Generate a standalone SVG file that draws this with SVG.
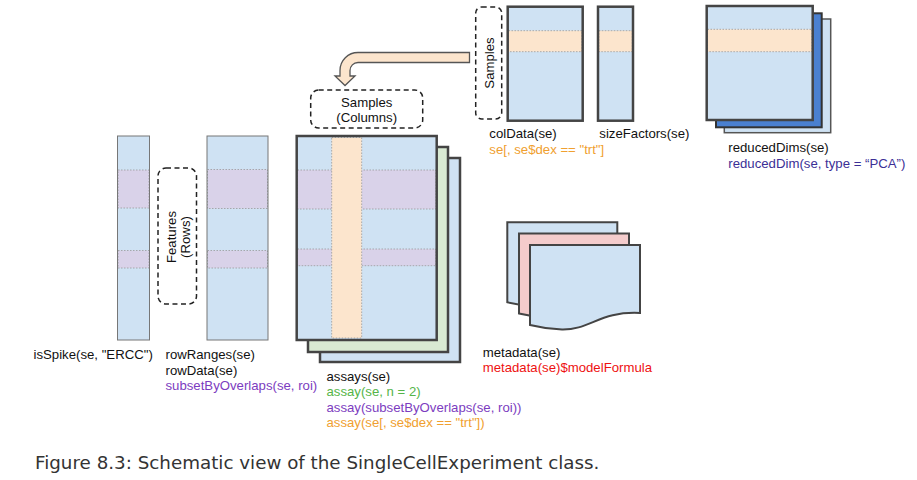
<svg xmlns="http://www.w3.org/2000/svg" xmlns:xlink="http://www.w3.org/1999/xlink" width="917" height="480" viewBox="0 0 917 480">
<style>
.lbl{font-family:"Liberation Sans",Arial,sans-serif;font-size:13.2px;fill:#111}
.org{fill:#f0a030}.grn{fill:#55b548}.pur{fill:#7c3cc0}.red{fill:#ee1111}.ind{fill:#3b2f96}
.blue{fill:#cfe2f3}
.thin{fill:none;stroke:#777;stroke-width:1}
.thick{stroke:#444;stroke-width:2.5}
.bandp{fill:#d9d2e9;stroke:#999;stroke-width:0.8;stroke-dasharray:1.5 1.5}
.bando{fill:#fce5cd;stroke:#999;stroke-width:0.8;stroke-dasharray:1.5 1.5}
.dash{fill:none;stroke:#222;stroke-width:1.5;stroke-dasharray:5 3.5}
.doc{stroke:#444;stroke-width:2}
.cap{font-family:"DejaVu Sans","Liberation Sans",sans-serif;font-size:18.3px;fill:#333}
</style>
<defs>
<path id="doc" d="M0,0 H110 V68 C70,66 60,85 32,84.5 C18,84 8,82 0,80 Z" class="doc"/>
</defs>

<g id="connectors">
<path d="M469.5,52.5 H358 A18,18 0 0 0 340,70.5 V76 H335 L345,85.5 L355,76 H350 V70.5 A8,8 0 0 1 358,62.5 H469.5 Z" fill="#fce5cd" stroke="#555" stroke-width="1.3"/>
</g>

<g id="isSpike">
<rect x="117.5" y="136" width="32" height="204" class="blue"/>
<rect x="118" y="170" width="31" height="38" class="bandp"/>
<rect x="118" y="250.5" width="31" height="17.5" class="bandp"/>
<rect x="117.5" y="136" width="32" height="204" class="thin"/>
<text x="33.5" y="358.5" class="lbl">isSpike(se, "ERCC")</text>
</g>

<g id="features">
<rect x="158" y="168" width="38.5" height="136" rx="8" class="dash"/>
<text transform="translate(177,237) rotate(-90)" text-anchor="middle" class="lbl"><tspan x="0" y="-1">Features</tspan><tspan x="0" y="13">(Rows)</tspan></text>
</g>

<g id="rowData">
<rect x="207" y="136" width="61" height="204" class="blue"/>
<rect x="207.5" y="169.5" width="60" height="39" class="bandp"/>
<rect x="207.5" y="250.5" width="60" height="17.5" class="bandp"/>
<rect x="207" y="136" width="61" height="204" class="thin"/>
<text class="lbl" x="165.5"><tspan x="165.5" y="359">rowRanges(se)</tspan><tspan x="165.5" y="374.5">rowData(se)</tspan><tspan x="165.5" y="390" class="pur">subsetByOverlaps(se, roi)</tspan></text>
</g>

<g id="assays">
<rect x="320" y="158" width="140" height="204" class="blue thick"/>
<rect x="308" y="147" width="140" height="205" fill="#d9ead3" class="thick"/>
<rect x="296.7" y="136" width="140" height="204" class="blue"/>
<rect x="297.5" y="170" width="138.5" height="39" class="bandp"/>
<rect x="297.5" y="249" width="138.5" height="16.7" class="bandp"/>
<rect x="331.7" y="137.5" width="30" height="200.5" class="bando"/>
<rect x="296.7" y="136" width="140" height="204" fill="none" class="thick"/>
<text class="lbl"><tspan x="326.5" y="380.7">assays(se)</tspan><tspan x="326.5" y="396" class="grn">assay(se, n = 2)</tspan><tspan x="326.5" y="411.5" class="pur">assay(subsetByOverlaps(se, roi))</tspan><tspan x="326.5" y="427" class="org">assay(se[, se$dex == "trt"])</tspan></text>
</g>

<g id="samplesColumns">
<rect x="310.7" y="90" width="112" height="38" rx="8" class="dash"/>
<text text-anchor="middle" class="lbl"><tspan x="366.7" y="107">Samples</tspan><tspan x="366.7" y="122">(Columns)</tspan></text>
</g>

<g id="samples">
<rect x="475.7" y="7" width="26" height="112" rx="6" class="dash"/>
<text transform="translate(493.5,63) rotate(-90)" text-anchor="middle" class="lbl">Samples</text>
</g>

<g id="colData">
<rect x="507.7" y="6.7" width="75" height="114" class="blue"/>
<rect x="508.5" y="30.7" width="73.5" height="21" class="bando"/>
<rect x="507.7" y="6.7" width="75" height="114" fill="none" class="thick"/>
<text class="lbl"><tspan x="489.3" y="138.3">colData(se)</tspan><tspan x="489.3" y="154" class="org">se[, se$dex == "trt"]</tspan></text>
</g>

<g id="sizeFactors">
<rect x="598" y="6.7" width="35" height="114" class="blue"/>
<rect x="598.8" y="30.7" width="33.5" height="21" class="bando"/>
<rect x="598" y="6.7" width="35" height="114" fill="none" class="thick"/>
<text x="599.3" y="138.3" class="lbl">sizeFactors(se)</text>
</g>

<g id="reducedDims">
<rect x="724.3" y="19" width="106.4" height="113.7" class="blue" stroke="#555" stroke-width="1.5"/>
<rect x="716" y="13.3" width="105.7" height="114" fill="#4a80d0" stroke="#333" stroke-width="2"/>
<rect x="706.7" y="6" width="106" height="114" class="blue"/>
<rect x="707.5" y="29.3" width="104.5" height="22.4" class="bando"/>
<rect x="706.7" y="6" width="106" height="114" fill="none" class="thick"/>
<text class="lbl"><tspan x="728.3" y="151.7">reducedDims(se)</tspan><tspan x="728.3" y="168" class="ind">reducedDim(se, type = “PCA”)</tspan></text>
</g>

<g id="metadata">
<use xlink:href="#doc" x="507.3" y="222.3" fill="#cfe2f3"/>
<use xlink:href="#doc" x="519" y="233.5" fill="#f4cccc"/>
<use xlink:href="#doc" x="530" y="245" fill="#cfe2f3"/>
<text class="lbl"><tspan x="482.7" y="356.5">metadata(se)</tspan><tspan x="482.7" y="372" class="red">metadata(se)$modelFormula</tspan></text>
</g>

<g id="caption">
<text x="35" y="468.5" class="cap">Figure 8.3: Schematic view of the SingleCellExperiment class.</text>
</g>
</svg>
